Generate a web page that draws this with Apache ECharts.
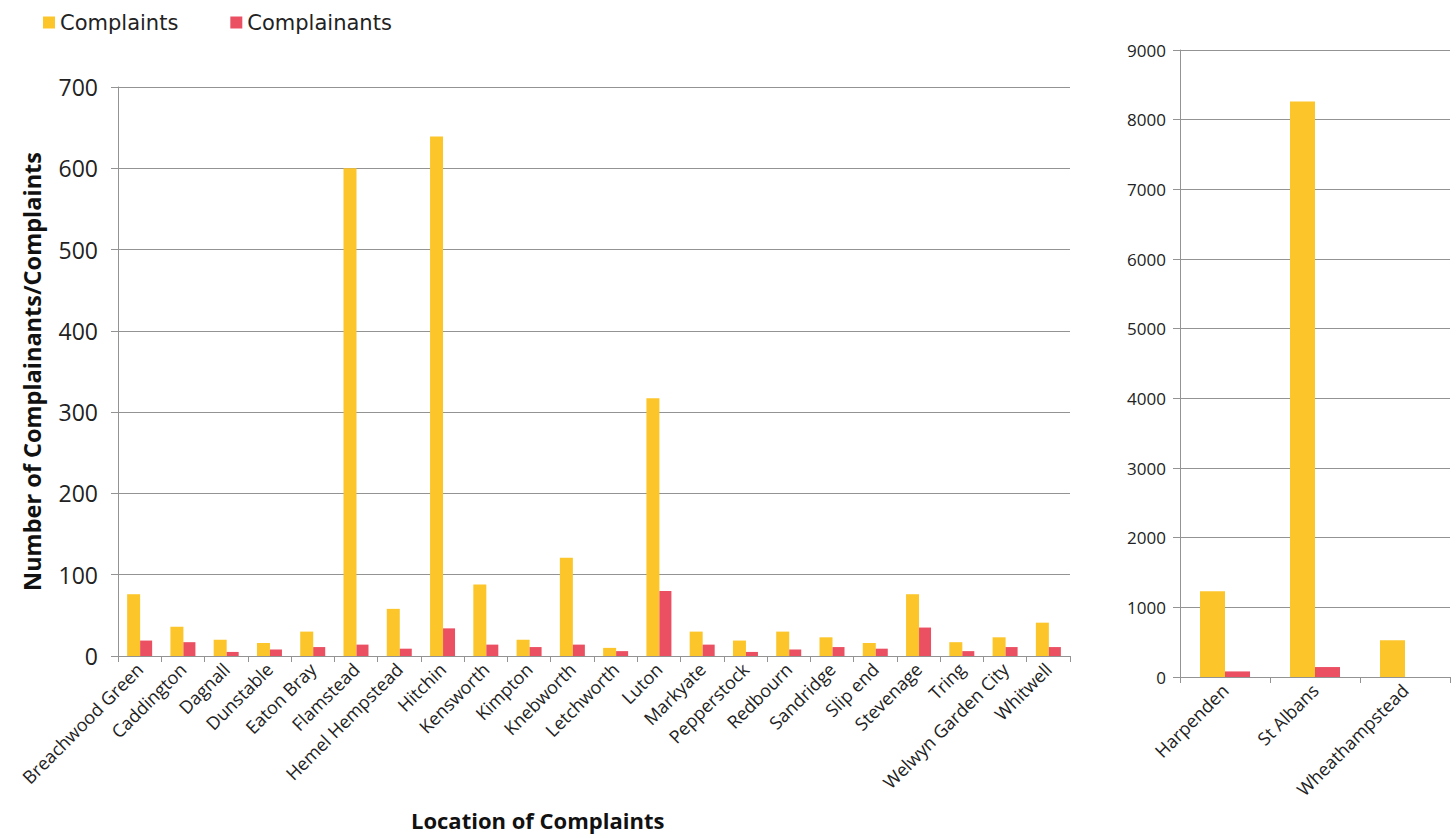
<!DOCTYPE html>
<html>
<head>
<meta charset="utf-8">
<title>Location of Complaints</title>
<script src="https://cdn.jsdelivr.net/npm/echarts@6/dist/echarts.min.js"></script>
<style>
  html, body { margin: 0; padding: 0; background: #ffffff; }
  #chart { width: 1456px; height: 838px; }
</style>
</head>
<body>
<div id="chart"></div>
<script>
// Smaller locations (left panel)
const locations = [
  'Breachwood Green', 'Caddington', 'Dagnall', 'Dunstable', 'Eaton Bray',
  'Flamstead', 'Hemel Hempstead', 'Hitchin', 'Kensworth', 'Kimpton',
  'Knebworth', 'Letchworth', 'Luton', 'Markyate', 'Pepperstock',
  'Redbourn', 'Sandridge', 'Slip end', 'Stevenage', 'Tring',
  'Welwyn Garden City', 'Whitwell'
];
const complaints = [
  76, 36, 20, 16, 30,
  600, 58, 639, 88, 20,
  121, 10, 317, 30, 19,
  30, 23, 16, 76, 17,
  23, 41
];
const complainants = [
  19, 17, 5, 8, 11,
  14, 9, 34, 14, 11,
  14, 6, 80, 14, 5,
  8, 11, 9, 35, 6,
  11, 11
];

// Larger locations (right panel)
const bigLocations = ['Harpenden', 'St Albans', 'Wheathampstead'];
const bigComplaints = [1230, 8260, 527];
const bigComplainants = [80, 143, 0];

// Tick labels
const leftTicks = [0, 100, 200, 300, 400, 500, 600, 700];
const rightTicks = [0, 1000, 2000, 3000, 4000, 5000, 6000, 7000, 8000, 9000];

const YELLOW = '#FCC62A';
const RED = '#EB5062';
const FONT = "'Open Sans', 'DejaVu Sans', sans-serif";
const WIDE_FONT = "'DejaVu Sans', 'Open Sans', sans-serif";
const GRID_LINE = '#939393';

const chart = echarts.init(document.getElementById('chart'), null, { renderer: 'svg' });

function valueAxis(gridIndex, ticks, fontSize, margin, extra) {
  return Object.assign({
    type: 'value',
    gridIndex: gridIndex,
    min: ticks[0],
    max: ticks[ticks.length - 1],
    interval: ticks[1] - ticks[0],
    axisLine: { show: true, lineStyle: { color: GRID_LINE, width: 1 } },
    axisTick: { show: true, length: 7, lineStyle: { color: GRID_LINE } },
    splitLine: { show: true, lineStyle: { color: GRID_LINE, width: 1 } },
    axisLabel: {
      color: '#222', fontSize: fontSize, fontFamily: FONT, margin: margin,
      formatter: function (v) { return String(v); }
    }
  }, extra || {});
}

function categoryAxis(gridIndex, data, fontSize) {
  return {
    type: 'category',
    gridIndex: gridIndex,
    data: data,
    axisLine: { show: true, lineStyle: { color: GRID_LINE, width: 1 } },
    axisTick: { show: true, length: 6, alignWithLabel: false, lineStyle: { color: GRID_LINE } },
    axisLabel: {
      rotate: 45, interval: 0, color: '#222', fontSize: fontSize,
      fontFamily: FONT, margin: 10
    }
  };
}

const option = {
  backgroundColor: '#ffffff',
  animation: false,
  title: {
    text: 'Location of Complaints',
    left: 406, top: 804,
    textStyle: { fontSize: 22, fontWeight: 'bold', color: '#111', fontFamily: FONT }
  },
  legend: {
    left: 38, top: 7,
    itemWidth: 12, itemHeight: 12, itemGap: 52,
    icon: 'rect',
    textStyle: { fontSize: 21, color: '#222', fontFamily: WIDE_FONT },
    data: ['Complaints', 'Complainants']
  },
  grid: [
    { left: 118, right: 386, top: 87, bottom: 182 },
    { left: 1180, right: 6, top: 50, bottom: 161 }
  ],
  xAxis: [
    categoryAxis(0, locations, 18),
    categoryAxis(1, bigLocations, 18)
  ],
  yAxis: [
    valueAxis(0, leftTicks, 23, 20, {
      name: 'Number of Complainants/Complaints',
      nameLocation: 'middle',
      nameRotate: 90,
      nameGap: 74,
      nameTextStyle: { fontSize: 23.5, fontWeight: 'bold', color: '#111', fontFamily: FONT }
    }),
    valueAxis(1, rightTicks, 17, 14)
  ],
  series: [
    {
      name: 'Complaints', type: 'bar', xAxisIndex: 0, yAxisIndex: 0,
      data: complaints, itemStyle: { color: YELLOW },
      barWidth: 13, barGap: '0%'
    },
    {
      name: 'Complainants', type: 'bar', xAxisIndex: 0, yAxisIndex: 0,
      data: complainants, itemStyle: { color: RED },
      barWidth: 12, barGap: '0%'
    },
    {
      name: 'Complaints', type: 'bar', xAxisIndex: 1, yAxisIndex: 1,
      data: bigComplaints, itemStyle: { color: YELLOW },
      barWidth: 25, barGap: '0%'
    },
    {
      name: 'Complainants', type: 'bar', xAxisIndex: 1, yAxisIndex: 1,
      data: bigComplainants, itemStyle: { color: RED },
      barWidth: 25, barGap: '0%'
    }
  ]
};

chart.setOption(option);
</script>
</body>
</html>
